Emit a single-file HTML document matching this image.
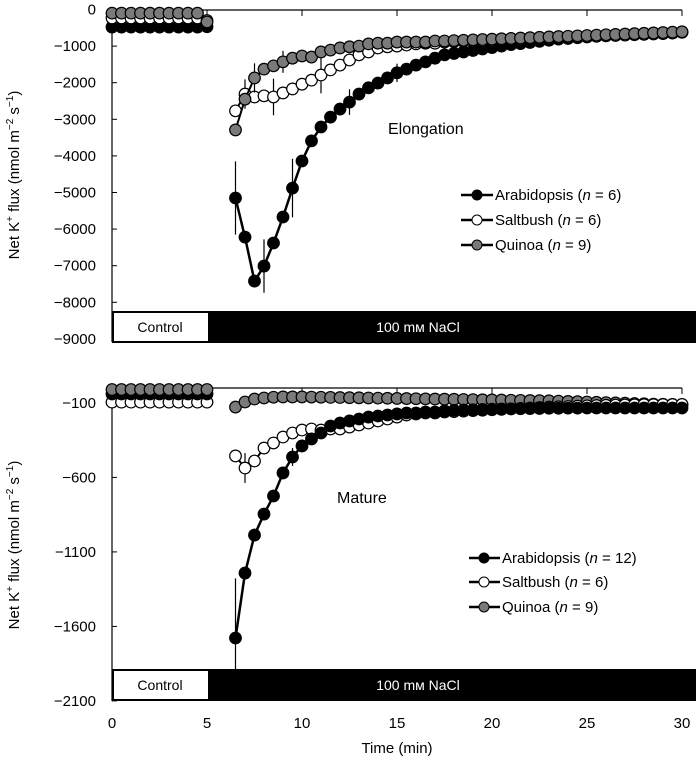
<!DOCTYPE html>
<html><head><meta charset="utf-8"><style>
body{margin:0;background:#fff;}
svg{display:block;font-family:"Liberation Sans",Arial,sans-serif;}
</style></head><body>
<svg id="chart" width="698" height="766" viewBox="0 0 698 766" xmlns="http://www.w3.org/2000/svg"></svg>
<script>
// ---- data ----
const ctrlTimes = [0,0.5,1,1.5,2,2.5,3,3.5,4,4.5,5];
const saltTimes = [];
for (let i = 0; i < 48; i++) saltTimes.push(6.5 + i*0.5);
const xTicks = [0,5,10,15,20,25,30];

// Elongation panel
const elongYTicks = [0,-1000,-2000,-3000,-4000,-5000,-6000,-7000,-8000,-9000];
const elongArabCtrl = [-480,-480,-480,-480,-480,-480,-480,-480,-480,-480,-470];
const elongSaltCtrl = [-230,-230,-230,-230,-230,-230,-230,-230,-230,-230,-300];
const elongQuinCtrl = [-100,-100,-100,-100,-100,-100,-100,-100,-100,-100,-340];
const elongArab = [-5150,-6220,-7420,-7010,-6380,-5670,-4880,-4140,-3590,-3210,-2940,-2720,-2530,-2310,-2140,-2010,-1870,-1730,-1630,-1520,-1430,-1330,-1240,
 -1200,-1160,-1120,-1080,-1040,-1000,-960,-930,-900,-870,-840,-810,-790,-770,-750,-730,-710,-700,-690,-680,-670,-660,-650,-640,-620];
const elongArabErr = [1000,0,0,730,0,0,800,0,0,0,0,0,350,0,0,0,0,250,0,0,0,0,0,
 0,0,0,0,0,0,0,0,0,0,0,0,0,0,0,0,0,0,0,0,0,0,0,0,0];
const elongSalt = [-2770,-2310,-2390,-2360,-2390,-2280,-2170,-2040,-1930,-1790,-1650,-1520,-1380,-1240,-1160,-1050,-1020,-1000,-970,-940,-920,-920,-890,
 -880,-870,-860,-850,-840,-830,-820,-810,-800,-790,-780,-770,-760,-750,-740,-730,-720,-710,-700,-690,-680,-670,-660,-640,-620];
const elongSaltErr = [0,400,0,0,500,0,0,0,0,500,0,0,0,0,0,0,0,150,0,0,0,0,0,
 0,0,0,0,0,0,0,0,0,0,0,0,0,0,0,0,0,0,0,0,0,0,0,0,0];
const elongQuin = [-3290,-2450,-1870,-1630,-1540,-1430,-1330,-1270,-1300,-1160,-1110,-1050,-1020,-1000,-940,-920,-920,-890,-890,-890,-890,-860,-860,
 -850,-840,-830,-820,-810,-800,-790,-780,-770,-760,-750,-740,-730,-720,-710,-700,-690,-680,-670,-660,-650,-640,-630,-620,-610];
const elongQuinErr = [0,0,400,0,0,300,0,0,0,0,0,0,0,0,0,0,0,0,0,0,0,0,0,
 0,0,0,0,0,0,0,0,0,0,0,0,0,0,0,0,0,0,0,0,0,0,0,0,0];

// Mature panel
const matYTicks = [-100,-600,-1100,-1600,-2100];
const matArabCtrl = [-40,-40,-40,-40,-40,-40,-40,-40,-40,-40,-40];
const matSaltCtrl = [-95,-95,-95,-95,-95,-95,-95,-95,-95,-95,-95];
const matQuinCtrl = [-10,-10,-10,-10,-10,-10,-10,-10,-10,-10,-10];
const matArab = [-1678,-1242,-987,-846,-725,-570,-463,-389,-342,-302,-255,-235,-221,-208,-195,-188,-181,-174,-168,-168,-161,-161,-154,
 -150,-148,-146,-144,-142,-141,-140,-139,-138,-137,-136,-136,-135,-135,-134,-134,-134,-134,-134,-134,-134,-134,-134,-134,-134];
const matArabErr = [400,0,0,0,0,0,60,0,0,0,0,0,0,0,0,0,0,0,0,0,0,0,0,
 0,0,0,0,0,0,0,0,0,0,0,0,0,0,0,0,0,0,0,0,0,0,0,0,0];
const matSalt = [-456,-537,-490,-403,-369,-329,-302,-282,-275,-282,-275,-275,-262,-248,-235,-221,-208,-195,-181,-174,-168,-168,-161,
 -158,-155,-152,-149,-146,-143,-140,-137,-134,-131,-128,-126,-124,-122,-120,-118,-116,-115,-114,-113,-112,-112,-111,-111,-110];
const matSaltErr = [0,100,0,0,40,0,0,40,0,0,30,0,0,30,0,0,0,0,0,0,0,0,0,
 0,0,0,0,0,0,0,0,0,0,0,0,0,0,0,0,0,0,0,0,0,0,0,0,0];
const matQuin = [-128,-94,-74,-67,-62,-60,-60,-60,-61,-62,-63,-64,-65,-66,-67,-68,-69,-70,-71,-72,-73,-74,-75,
 -76,-77,-78,-79,-80,-81,-82,-83,-84,-85,-86,-88,-90,-92,-94,-96,-98,-100,-102,-104,-106,-108,-109,-110,-112];

// ---- drawing ----
const svg = document.getElementById('chart');
const NS = 'http://www.w3.org/2000/svg';
function mk(tag, attrs, parent){ const e=document.createElementNS(NS,tag); for(const k in attrs) e.setAttribute(k,attrs[k]); (parent||svg).appendChild(e); return e; }
const X0 = 112, XS = 19;
function xScale(t){ return X0 + t*XS; }
function yElong(v){ return 9.5 - v*0.0366; }
function yMat(v){ return 388 - v*0.149; }

function panel(name, yTop, yBot, barTop, barBot, yTicks, yFn){
  const g = mk('g',{});
  
  
  mk('line',{x1:X0,y1:yTop,x2:682,y2:yTop,stroke:'#000','stroke-width':1.2},g);
  mk('line',{x1:X0,y1:yTop,x2:X0,y2:yBot,stroke:'#000','stroke-width':1.2},g);
  xTicks.forEach(t=>{ if(t>0) mk('line',{x1:xScale(t),y1:yTop,x2:xScale(t),y2:yTop+6,stroke:'#000','stroke-width':1},g); });
  yTicks.forEach(v=>{
    const y = yFn(v);
    mk('line',{x1:X0,y1:y,x2:X0+5,y2:y,stroke:'#000','stroke-width':1},g);
    const tx = mk('text',{x:X0-16,y:y+5,'text-anchor':'end','font-size':15,fill:'#000'},g);
    tx.textContent = String(v).replace('-','\u2212');
    
    
  });
  const bar = mk('g',{},g);
  
  
  mk('rect',{x:X0,y:barTop,width:696-X0,height:barBot-barTop,fill:'#000'},bar);
  mk('rect',{x:X0+2,y:barTop+2,width:94,height:barBot-barTop-4,fill:'#fff'},bar);
  const c = mk('text',{x:160,y:(barTop+barBot)/2+5,'text-anchor':'middle','font-size':14,fill:'#000'},bar);
  c.textContent='Control';
  const n = mk('text',{x:418,y:(barTop+barBot)/2+5,'text-anchor':'middle','font-size':14,fill:'#fff'},bar);
  n.textContent='100 m\u043c NaCl';
}
panel('elongation', 10, 342, 311, 343, elongYTicks, yElong);
panel('mature', 388, 701, 669, 701, matYTicks, yMat);

function series(name, times, vals, errs, yFn, fill, lineW, connect){
  const g = mk('g',{});
  
  
  if(errs){ times.forEach((t,i)=>{ if(errs[i]>0){ mk('line',{x1:xScale(t),y1:yFn(vals[i]-errs[i]),x2:xScale(t),y2:yFn(vals[i]+errs[i]),stroke:'#000','stroke-width':1.2},g);} }); }
  if(connect){
    const pts = times.map((t,i)=>xScale(t)+','+yFn(vals[i])).join(' ');
    mk('polyline',{points:pts,fill:'none',stroke:'#000','stroke-width':lineW},g);
  }
  times.forEach((t,i)=>{
    const c = mk('circle',{cx:xScale(t),cy:yFn(vals[i]),r:5.8,fill:fill,stroke:'#000','stroke-width':1.2},g);
    
    
  });
}
series('elong-arabidopsis-control', ctrlTimes, elongArabCtrl, null, yElong, '#000', 2, true);
series('elong-saltbush-control', ctrlTimes, elongSaltCtrl, null, yElong, '#fff', 2, true);
series('elong-quinoa-control', ctrlTimes, elongQuinCtrl, null, yElong, '#7a7a7a', 2, true);
series('elong-arabidopsis', saltTimes, elongArab, elongArabErr, yElong, '#000', 2.5, true);
series('elong-saltbush', saltTimes, elongSalt, elongSaltErr, yElong, '#fff', 2, true);
series('elong-quinoa', saltTimes, elongQuin, elongQuinErr, yElong, '#7a7a7a', 2, true);
series('mature-saltbush-control', ctrlTimes, matSaltCtrl, null, yMat, '#fff', 2, true);
series('mature-arabidopsis-control', ctrlTimes, matArabCtrl, null, yMat, '#000', 2, true);
series('mature-quinoa-control', ctrlTimes, matQuinCtrl, null, yMat, '#7a7a7a', 2, true);
series('mature-quinoa', saltTimes, matQuin, null, yMat, '#7a7a7a', 2, true);
series('mature-saltbush', saltTimes, matSalt, matSaltErr, yMat, '#fff', 2, true);
series('mature-arabidopsis', saltTimes, matArab, matArabErr, yMat, '#000', 2.5, true);

xTicks.forEach(t=>{
  const tx = mk('text',{x:xScale(t),y:728,'text-anchor':'middle','font-size':15,fill:'#000'});
  tx.textContent = t;
  
  
});
</script>
<svg width="698" height="766" style="position:absolute;left:0;top:0" xmlns="http://www.w3.org/2000/svg" font-family="Liberation Sans, Arial, sans-serif">
  <text x="397" y="753" text-anchor="middle" font-size="15">Time (min)</text>
  <text transform="translate(19,175) rotate(-90)" text-anchor="middle" font-size="15">Net K<tspan font-size="10" dy="-6">+</tspan><tspan dy="6"> flux (nmol m</tspan><tspan font-size="10" dy="-6">−2</tspan><tspan dy="6"> s</tspan><tspan font-size="10" dy="-6">−1</tspan><tspan dy="6">)</tspan></text>
  <text transform="translate(19,545) rotate(-90)" text-anchor="middle" font-size="15">Net K<tspan font-size="10" dy="-6">+</tspan><tspan dy="6"> flux (nmol m</tspan><tspan font-size="10" dy="-6">−2</tspan><tspan dy="6"> s</tspan><tspan font-size="10" dy="-6">−1</tspan><tspan dy="6">)</tspan></text>
  <text x="388" y="134" font-size="16">Elongation</text>
  <text x="337" y="503" font-size="16">Mature</text>
  <g font-size="15">
    <g><line x1="461" y1="195" x2="493" y2="195" stroke="#000" stroke-width="2.5"/><circle cx="477" cy="195" r="5" fill="#000" stroke="#000"/><text x="495" y="200">Arabidopsis (<tspan font-style="italic">n</tspan> = 6)</text></g>
    <g><line x1="461" y1="220" x2="493" y2="220" stroke="#000" stroke-width="2.5"/><circle cx="477" cy="220" r="5" fill="#fff" stroke="#000"/><text x="495" y="225">Saltbush (<tspan font-style="italic">n</tspan> = 6)</text></g>
    <g><line x1="461" y1="245" x2="493" y2="245" stroke="#000" stroke-width="2.5"/><circle cx="477" cy="245" r="5" fill="#7a7a7a" stroke="#000"/><text x="495" y="250">Quinoa (<tspan font-style="italic">n</tspan> = 9)</text></g>
  </g>
  <g font-size="15">
    <g><line x1="469" y1="558" x2="500" y2="558" stroke="#000" stroke-width="2.5"/><circle cx="484" cy="558" r="5" fill="#000" stroke="#000"/><text x="502" y="563">Arabidopsis (<tspan font-style="italic">n</tspan> = 12)</text></g>
    <g><line x1="469" y1="582" x2="500" y2="582" stroke="#000" stroke-width="2.5"/><circle cx="484" cy="582" r="5" fill="#fff" stroke="#000"/><text x="502" y="587">Saltbush (<tspan font-style="italic">n</tspan> = 6)</text></g>
    <g><line x1="469" y1="607" x2="500" y2="607" stroke="#000" stroke-width="2.5"/><circle cx="484" cy="607" r="5" fill="#7a7a7a" stroke="#000"/><text x="502" y="612">Quinoa (<tspan font-style="italic">n</tspan> = 9)</text></g>
  </g>
</svg>
</body></html>
